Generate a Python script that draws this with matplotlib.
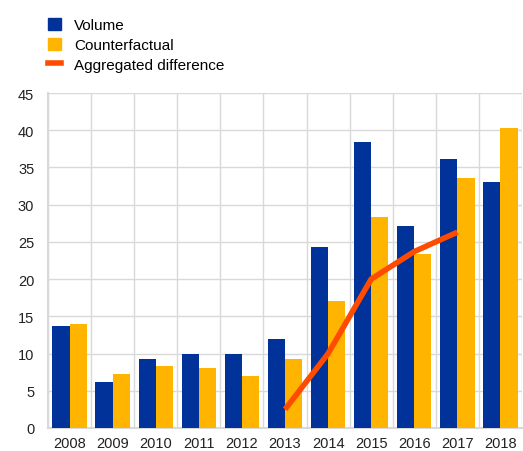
import numpy as np
import matplotlib.pyplot as plt
from matplotlib.lines import Line2D
from matplotlib.patches import Patch

plt.rcParams['font.family'] = ['Liberation Sans', 'DejaVu Sans']

years = ['2008', '2009', '2010', '2011', '2012', '2013', '2014', '2015', '2016', '2017', '2018']
volume = [13.7, 6.2, 9.2, 10.0, 9.9, 11.9, 24.3, 38.4, 27.1, 36.1, 33.0]
counterfactual = [13.9, 7.3, 8.3, 8.0, 7.0, 9.2, 17.0, 28.3, 23.4, 33.6, 40.3]
diff_years = ['2013', '2014', '2015', '2016', '2017']
aggregated_diff = [2.5, 10.0, 20.0, 23.7, 26.3]

blue = '#003299'
yellow = '#FFB400'
orange = '#FF4B00'
grid = '#d9d9d9'

fig = plt.figure(figsize=(5.23, 4.52), dpi=100)
ax = fig.add_axes([0.092, 0.051, 0.906, 0.741])

x = np.arange(len(years))
w = 0.4
ax.bar(x - w / 2, volume, w, color=blue, zorder=3)
ax.bar(x + w / 2, counterfactual, w, color=yellow, zorder=3)
xd = [years.index(y) for y in diff_years]
ax.plot(xd, aggregated_diff, color=orange, lw=4, zorder=4, solid_capstyle='butt')

ax.set_xlim(-0.5, len(years) - 0.5)
ax.set_ylim(0, 45)
ax.set_yticks(range(0, 46, 5))
ax.set_xticks(x)
ax.set_xticklabels(years)
ax.set_xticks(np.arange(-0.5, len(years), 1), minor=True)
ax.tick_params(axis='both', which='both', length=0, labelsize=10.5, colors='#222222')
ax.tick_params(axis='x', pad=6)
ax.tick_params(axis='y', pad=10)
ax.grid(axis='y', color=grid, lw=1, zorder=0)
ax.grid(axis='x', which='minor', color=grid, lw=1, zorder=0)
ax.grid(axis='x', which='major', visible=False)
for s in ['top', 'right']:
    ax.spines[s].set_visible(False)
for s in ['left', 'bottom']:
    ax.spines[s].set_color(grid)
    ax.spines[s].set_linewidth(1.5)

handles = [Patch(color=blue), Patch(color=yellow),
           Line2D([0], [0], color=orange, lw=4)]
fig.legend(handles, ['Volume', 'Counterfactual', 'Aggregated difference'],
           loc='upper left', bbox_to_anchor=(0.092, 0.958), frameon=False,
           borderaxespad=0, borderpad=0,
           fontsize=11, handlelength=0.85, handleheight=0.85,
           handletextpad=0.85, labelspacing=0.36)

fig.savefig('out.png', dpi=100)
